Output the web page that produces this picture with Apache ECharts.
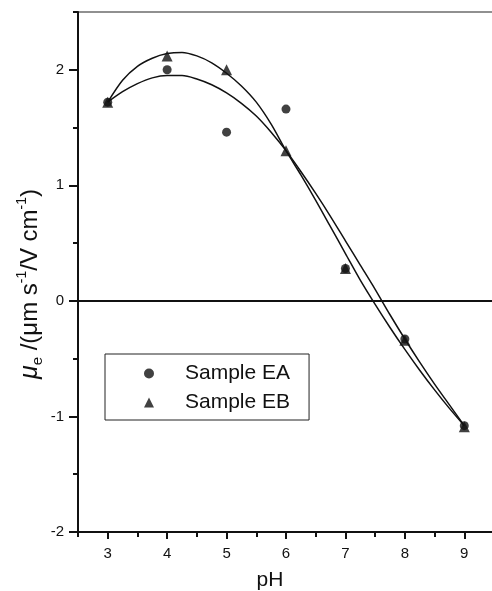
<!DOCTYPE html>
<html><head><meta charset="utf-8">
<script src="https://cdn.jsdelivr.net/npm/echarts@6/dist/echarts.min.js"></script>
<style>html,body{margin:0;padding:0;background:#fff}#c{width:492px;height:591px}</style>
</head><body><div id="c"></div>
<script>
// ---- data ----
const phPoints = [3, 4, 5, 6, 7, 8, 9];
const sampleEA = [1.72, 2.00, 1.46, 1.66, 0.28, -0.33, -1.08];
const sampleEB = [1.72, 2.12, 2.00, 1.30, 0.28, -0.34, -1.09];
const phFit = [3, 3.25, 3.5, 3.75, 4, 4.25, 4.5, 4.75, 5, 5.25, 5.5, 5.75, 6, 6.25, 6.5, 6.75, 7, 7.25, 7.5, 7.75, 8, 8.25, 8.5, 8.75, 9];
const fitEA = [1.72, 1.81, 1.88, 1.93, 1.95, 1.95, 1.92, 1.87, 1.80, 1.71, 1.60, 1.46, 1.30, 1.12, 0.93, 0.73, 0.52, 0.31, 0.10, -0.12, -0.33, -0.53, -0.72, -0.90, -1.08];
const fitEB = [1.72, 1.91, 2.03, 2.10, 2.14, 2.15, 2.12, 2.06, 1.97, 1.86, 1.72, 1.53, 1.30, 1.09, 0.87, 0.64, 0.41, 0.18, -0.03, -0.23, -0.42, -0.60, -0.77, -0.93, -1.08];
const xMajorTicks = [3, 4, 5, 6, 7, 8, 9];
const xMinorTicks = [2.5, 3.5, 4.5, 5.5, 6.5, 7.5, 8.5];
const yMajorTicks = [-2, -1, 0, 1, 2];
const yMinorTicks = [-1.5, -0.5, 0.5, 1.5, 2.5];
const seriesNames = ['Sample EA', 'Sample EB'];
const xTitle = 'pH';

const pairs = (xs, ys) => xs.map((x, i) => [x, ys[i]]);
const FONT = '"Liberation Sans", Arial, sans-serif';
const INK = '#111';
const chart = echarts.init(document.getElementById('c'), null, {renderer: 'canvas'});

const xBase = {type: 'value', min: 2.5, max: 9.5, interval: 0.5, position: 'bottom', gridIndex: 0, splitLine: {show: false}};
const yBase = {type: 'value', min: -2, max: 2.5, interval: 0.5, position: 'left', gridIndex: 0, splitLine: {show: false}};

chart.setOption({
  animation: false,
  backgroundColor: '#fff',
  grid: {left: 78, top: 12, right: -2, bottom: 59, outerBoundsMode: 'none', containLabel: false,
         show: true, borderColor: '#222', borderWidth: 1.2},
  xAxis: [
    Object.assign({}, xBase, {
      axisLine: {onZero: false, lineStyle: {color: INK, width: 2}},
      axisTick: {customValues: xMajorTicks, length: 7, lineStyle: {color: INK, width: 2}},
      axisLabel: {customValues: xMajorTicks, margin: 14, fontSize: 15, color: INK, fontFamily: FONT}
    }),
    Object.assign({}, xBase, {
      axisLine: {show: false, onZero: false},
      axisTick: {customValues: xMinorTicks, length: 5, lineStyle: {color: INK, width: 2}},
      axisLabel: {show: false}
    })
  ],
  yAxis: [
    Object.assign({}, yBase, {
      axisLine: {onZero: false, lineStyle: {color: INK, width: 2}},
      axisTick: {customValues: yMajorTicks, length: 9, lineStyle: {color: INK, width: 2}},
      axisLabel: {customValues: yMajorTicks, margin: 14, fontSize: 15, color: INK, fontFamily: FONT}
    }),
    Object.assign({}, yBase, {
      axisLine: {show: false, onZero: false},
      axisTick: {customValues: yMinorTicks, length: 5, lineStyle: {color: INK, width: 2}},
      axisLabel: {show: false}
    })
  ],
  legend: {
    data: seriesNames,
    orient: 'vertical',
    left: 105, top: 354,
    padding: [9, 19, 7, 39],
    itemGap: 8,
    itemWidth: 10, itemHeight: 10,
    borderColor: '#222', borderWidth: 1,
    textStyle: {fontSize: 21, color: INK, fontFamily: FONT, padding: [0, 0, 0, 26]}
  },
  series: [
    {type: 'line', name: 'fitEA', data: pairs(phFit, fitEA), smooth: 0.3, showSymbol: false, silent: true,
     lineStyle: {color: INK, width: 1.5}, z: 2,
     markLine: {silent: true, symbol: 'none', label: {show: false}, lineStyle: {color: INK, width: 2, type: 'solid'}, data: [{yAxis: 0}]}},
    {type: 'line', name: 'fitEB', data: pairs(phFit, fitEB), smooth: 0.3, showSymbol: false, silent: true,
     lineStyle: {color: INK, width: 1.5}, z: 2},
    {type: 'scatter', name: seriesNames[0], data: pairs(phPoints, sampleEA), symbol: 'circle', symbolSize: 9,
     itemStyle: {color: INK}, z: 3},
    {type: 'scatter', name: seriesNames[1], data: pairs(phPoints, sampleEB), symbol: 'triangle', symbolSize: 11,
     itemStyle: {color: INK}, z: 4}
  ],
  graphic: [
    {type: 'text', x: 270, y: 580, style: {text: xTitle, font: '21px ' + FONT, fill: INK, align: 'center', verticalAlign: 'middle'}},
    {type: 'text', x: 30, y: 284, rotation: Math.PI / 2,
     style: {
       text: '{mu|μ}{sub|e}{n| /(μm s}{sup|-1}{n|/V cm}{sup|-1}{n|)}',
       align: 'center', verticalAlign: 'middle', fill: INK,
       rich: {
         mu: {fontSize: 25, fontStyle: 'italic', fontFamily: FONT, lineHeight: 30, fill: INK},
         n: {fontSize: 24, fontFamily: FONT, lineHeight: 30, fill: INK},
         sub: {fontSize: 15, fontFamily: FONT, lineHeight: 14, verticalAlign: 'bottom', fill: INK},
         sup: {fontSize: 14, fontFamily: FONT, lineHeight: 14, verticalAlign: 'top', fill: INK}
       }
     }}
  ]
});
</script></body></html>
